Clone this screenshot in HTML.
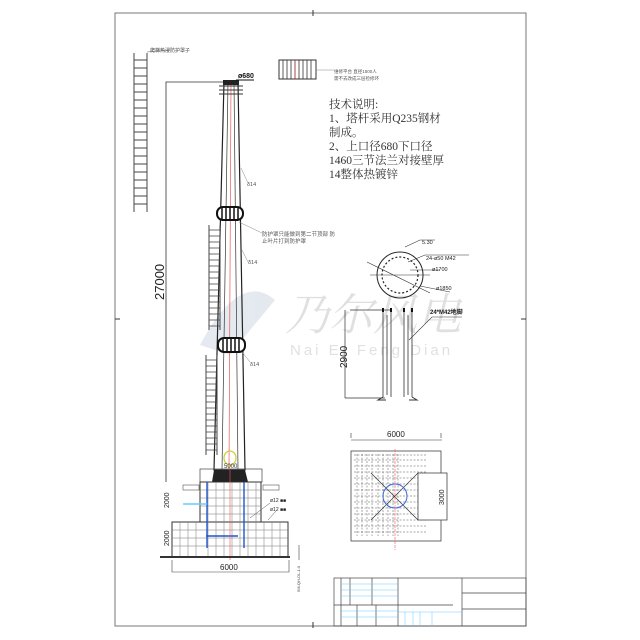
<!DOCTYPE html>
<html><head><meta charset="utf-8"><style>
html,body{margin:0;padding:0;background:#fff;}
svg{display:block;font-family:"Liberation Sans","Noto Sans CJK SC",sans-serif;}
</style></head><body>
<svg width="640" height="640" viewBox="0 0 640 640" xmlns="http://www.w3.org/2000/svg">
<rect width="640" height="640" fill="#fff"/>
<rect x="115" y="13" width="411" height="613" fill="none" stroke="#777" stroke-width="1"/>
<line x1="313" y1="10" x2="313" y2="16" stroke="#333"/>
<line x1="313" y1="622" x2="313" y2="628" stroke="#333"/>
<line x1="115" y1="319" x2="120" y2="319" stroke="#333"/>
<line x1="521" y1="319" x2="526" y2="319" stroke="#333"/>

<!-- watermark -->
<g opacity="0.22">
<path d="M200 345 Q240 270 275 300 Q250 330 230 355 Z" fill="#8aa0c0"/>
<text x="285" y="330" font-size="44" fill="#777" font-style="italic" font-family="Liberation Serif,'Noto Serif CJK SC',serif">乃尔风电</text>
<text x="290" y="355" font-size="15" fill="#777" letter-spacing="3">Nai Er Feng Dian</text>
</g>

<!-- top ladder -->
<g stroke="#444" stroke-width="1">
<line x1="134" y1="53" x2="134" y2="212"/><line x1="147" y1="53" x2="147" y2="212"/>
<path d="M134 60h13M134 68h13M134 76h13M134 84h13M134 92h13M134 100h13M134 108h13M134 116h13M134 124h13M134 132h13M134 140h13M134 148h13M134 156h13M134 164h13M134 172h13M134 180h13M134 188h13M134 196h13M134 204h13"/>
</g>
<line x1="147" y1="52" x2="170" y2="50" stroke="#666" stroke-width="0.6"/>
<text x="150" y="52" font-size="5" fill="#444">爬梯热浸防护罩子</text>

<!-- platform -->
<rect x="279" y="60" width="37" height="19" fill="none" stroke="#333"/>
<path d="M283 60v19M287 60v19M291 60v19M295 60v19M299 60v19M303 60v19M307 60v19M311 60v19" stroke="#333" stroke-width="0.8"/>
<line x1="295" y1="60" x2="295" y2="79" stroke="#e33" stroke-width="0.6"/>
<line x1="316" y1="70" x2="334" y2="70" stroke="#888" stroke-width="0.5"/>
<text x="334" y="73" font-size="4.5" fill="#555">维修平台 直径1500人</text>
<text x="334" y="80" font-size="4.5" fill="#555">需不去改成三层检修环</text>

<!-- notes -->
<g font-size="11.5" fill="#333" font-family="Liberation Serif,'Noto Serif CJK SC',serif">
<text x="329" y="108">技术说明:</text>
<text x="329" y="122">1、塔杆采用Q235钢材</text>
<text x="329" y="136">制成。</text>
<text x="329" y="150">2、上口径680下口径</text>
<text x="329" y="164">1460三节法兰对接壁厚</text>
<text x="329" y="178">14整体热镀锌</text>
</g>

<!-- dimension 27000 -->
<path d="M166 482V82H226" fill="none" stroke="#333" stroke-width="0.8"/>
<text transform="translate(164,300) rotate(-90)" font-size="13" fill="#222">27000</text>

<!-- tower -->
<polygon points="224,82 238,82 245,470 214,470" fill="none" stroke="#222" stroke-width="1.2"/>
<g stroke="#333" stroke-width="0.7">
<line x1="228" y1="82" x2="222" y2="470"/><line x1="234" y1="82" x2="238" y2="470"/>
<line x1="231" y1="82" x2="229" y2="470" stroke="#e55"/>
</g>
<rect x="223" y="80" width="16" height="5" fill="#222"/>
<path d="M219 86h24M219 90h24M219 94h24" stroke="#333"/>
<text x="238" y="78" font-size="7" font-weight="bold" fill="#111">ø680</text>
<line x1="236" y1="80" x2="254" y2="80" stroke="#111"/>
<rect x="217" y="207" width="26" height="13" rx="6" fill="#fff" stroke="#111" stroke-width="2"/>
<path d="M222 207v13M226 207v13M230 207v13M234 207v13M238 207v13" stroke="#111" stroke-width="1.5"/>
<rect x="218" y="338" width="27" height="14" rx="6" fill="#fff" stroke="#111" stroke-width="2"/>
<path d="M223 338v14M227 338v14M231 338v14M235 338v14M239 338v14" stroke="#111" stroke-width="1.5"/>
<g font-size="5.5" fill="#555">
<text x="247" y="186">δ14</text><text x="248" y="264">δ14</text><text x="250" y="366">δ14</text>
<text x="262" y="236">防护罩只能做到第二节顶部 防</text>
<text x="262" y="243">止叶片打到防护罩</text>
</g>
<path d="M239 222L262 233M241 168L248 183M242 250L248 262M242 352L250 362" stroke="#888" stroke-width="0.5" fill="none"/>
<path d="M209 225v105M220 225v105" stroke="#444"/>
<path d="M209 230h11M209 236h11M209 242h11M209 248h11M209 254h11M209 260h11M209 266h11M209 272h11M209 278h11M209 284h11M209 290h11M209 296h11M209 302h11M209 308h11M209 314h11M209 320h11M209 326h11" stroke="#444" stroke-width="0.8"/>
<path d="M206 355v100M217 355v100" stroke="#444"/>
<path d="M206 360h11M206 366h11M206 372h11M206 378h11M206 384h11M206 390h11M206 396h11M206 402h11M206 408h11M206 414h11M206 420h11M206 426h11M206 432h11M206 438h11M206 444h11M206 450h11" stroke="#444" stroke-width="0.8"/>
<ellipse cx="230" cy="458" rx="6" ry="7" fill="none" stroke="#cc3" stroke-width="1.2"/>
<text x="224" y="468" font-size="6" fill="#333">5000</text>
<path d="M214 470L212 482H248L245 470Z" fill="#222"/>
<!-- foundation -->
<rect x="200" y="469" width="62" height="13" fill="none" stroke="#444" stroke-width="0.7"/>
<rect x="200" y="482" width="61" height="40" fill="none" stroke="#333"/>
<rect x="172" y="522" width="116" height="35" fill="none" stroke="#333"/>
<g stroke="#777" stroke-width="0.5">
<path d="M208 482v75M216 482v75M224 482v75M232 482v75M240 482v75M248 482v75M256 482v75M180 522v35M188 522v35M196 522v35M264 522v35M272 522v35M280 522v35"/>
<path d="M200 490h61M200 498h61M200 506h61M200 514h61M172 530h116M172 538h116M172 546h116"/>
</g>
<path d="M207 482v66M244 482v66M206 536h32" stroke="#2255cc" stroke-width="1.4" fill="none"/>
<line x1="230" y1="470" x2="230" y2="560" stroke="#e55" stroke-width="0.6"/>
<path d="M183 504h24" stroke="#6cf" stroke-width="1.5"/>
<rect x="183" y="485" width="16" height="5" fill="none" stroke="#555" stroke-width="0.6"/>
<rect x="263" y="485" width="16" height="5" fill="none" stroke="#555" stroke-width="0.6"/>
<line x1="160" y1="557" x2="290" y2="557" stroke="#333" stroke-width="2"/>
<path d="M172 560v12h117v-12" fill="none" stroke="#444" stroke-width="0.6"/>
<text x="220" y="570" font-size="8" fill="#222">6000</text>
<text transform="translate(169,508) rotate(-90)" font-size="7" fill="#222">2000</text>
<text transform="translate(169,546) rotate(-90)" font-size="7" fill="#222">2000</text>
<text x="270" y="502" font-size="5" fill="#222">ø12 ■■</text>
<text x="270" y="511" font-size="5" fill="#222">ø12 ■■</text>
<path d="M250 518L270 503M268 520L276 511" stroke="#555" stroke-width="0.5" fill="none"/>
<line x1="299" y1="545" x2="299" y2="560" stroke="#444" stroke-width="0.6"/>
<text transform="translate(300,592) rotate(-90)" font-size="4" fill="#444">5M-QH-DL-1:0</text>

<!-- circle section -->
<circle cx="400" cy="275" r="23" fill="none" stroke="#222"/>
<circle cx="400" cy="275" r="18" fill="none" stroke="#222" stroke-dasharray="2 2" stroke-width="1.2"/>
<path d="M367 262L430 293M370 275h60" stroke="#333" stroke-width="0.6" fill="none"/>
<path d="M405 247L420 240h15M408 262L425 255h44M410 270h30M420 286L450 292" stroke="#333" stroke-width="0.6" fill="none"/>
<g font-size="5.5" fill="#222"><text x="422" y="244">5.30</text><text x="426" y="260">24-ø50 M42</text><text x="432" y="271">ø1700</text><text x="436" y="290">ø1850</text></g>
<!-- anchor bolt -->
<path d="M350 310h40M345 398h40M345 310v88" fill="none" stroke="#333" stroke-width="0.7"/>
<path d="M383 312v85M391 312v85M404 312v85M412 312v85M387 315v80M408 315v80" stroke="#333" stroke-width="0.8"/>
<path d="M383 312v-4M391 312v-4M404 312v-4M412 312v-4" stroke="#111" stroke-width="2"/>
<path d="M383 397l-5 3h8M412 397l5 3h-8" stroke="#333" fill="none"/>
<path d="M409 340L432 317h30" stroke="#333" stroke-width="0.6" fill="none"/>
<text x="430" y="314" font-size="6" font-weight="bold" fill="#222">24*M42地脚</text>
<text transform="translate(347,368) rotate(-90)" font-size="10" fill="#222">2900</text>
<!-- plan -->
<path d="M351 440h91M351 438v-5M441 438v-5" stroke="#333" stroke-width="0.6" fill="none"/>
<text x="387" y="437" font-size="8" fill="#222">6000</text>
<rect x="351" y="451" width="90" height="90" fill="none" stroke="#444" stroke-width="0.8"/>
<g stroke="#555" stroke-width="0.5" stroke-dasharray="2 1.5">
<path d="M354 455h72M354 460h72M354 466h72M354 472h72M354 478h72M354 484h72M354 490h72M354 496h72M354 502h72M354 508h72M354 514h72M354 520h72M354 526h72M354 532h72"/>
<path d="M357 454v82M362 454v82M367 454v82M372 454v82M378 454v82M383 454v82M388 454v82M393 454v82M398 454v82"/>
</g>
<rect x="418" y="473" width="29" height="47" fill="#fff" stroke="#444" stroke-width="0.8"/>
<path d="M371 473L418 520M371 520L418 473" stroke="#333" stroke-width="0.7"/>
<circle cx="395" cy="496" r="12" fill="none" stroke="#3366dd"/>
<line x1="395" y1="449" x2="395" y2="550" stroke="#e55" stroke-width="0.6" stroke-dasharray="3 1"/>
<text transform="translate(444,505) rotate(-90)" font-size="7" fill="#222">3000</text>
<!-- title block -->
<g stroke="#444" stroke-width="0.7" fill="none">
<rect x="334" y="578" width="192" height="48"/>
<path d="M334 605h119M398 578v48M462 578v48M462 593h64M462 609h64"/>
<path d="M341 578v48M350 578v27M372 578v27M357 605v21M376 605v21"/>
</g>
<g stroke="#6cf" stroke-width="0.5">
<path d="M341 584h57M341 590h57M341 596h57M341 611h57M341 617h57M398 612h64M405 612v14M413 612v14M420 612v14M432 612v14"/>
</g>
</svg>
</body></html>
